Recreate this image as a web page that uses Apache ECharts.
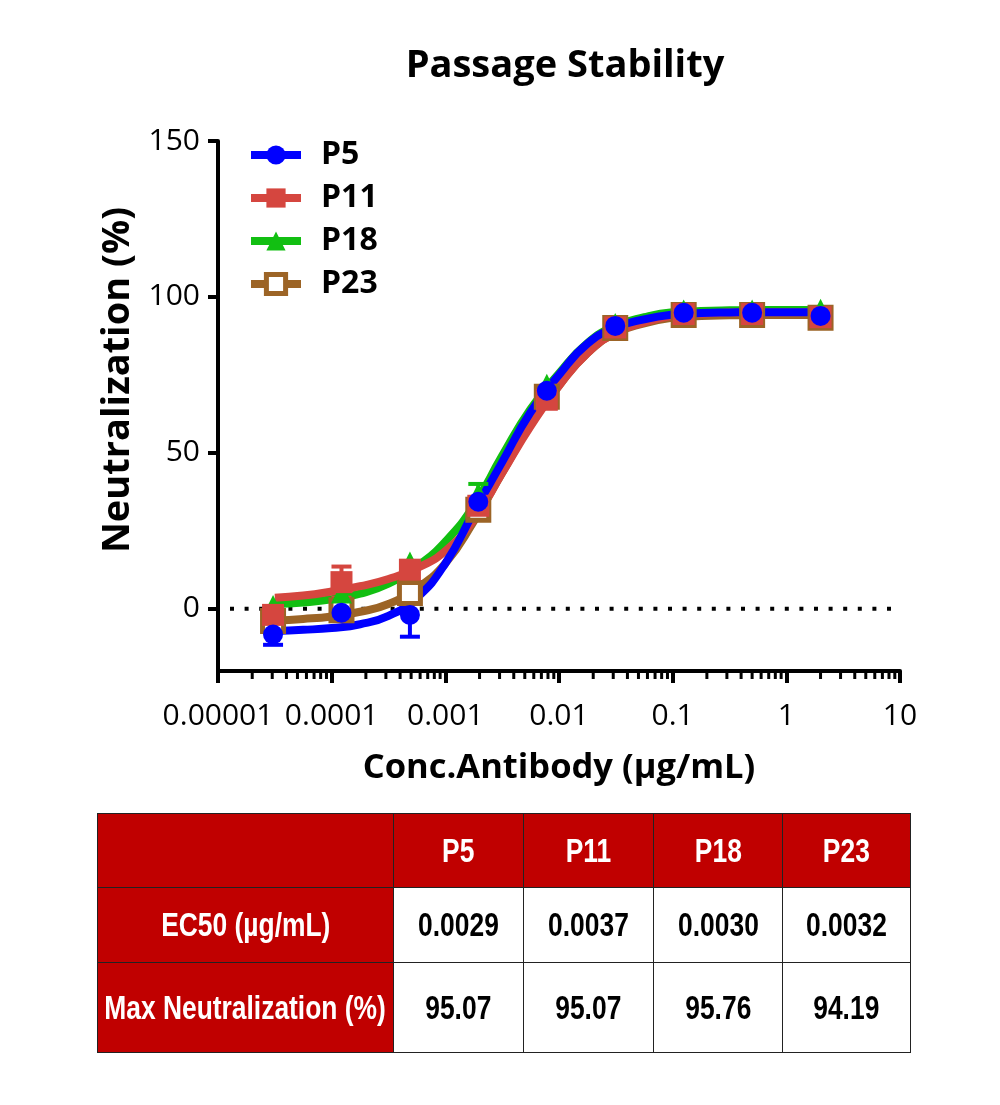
<!DOCTYPE html>
<html><head><meta charset="utf-8">
<script src="https://cdn.jsdelivr.net/npm/echarts@6/dist/echarts.min.js"></script>
<style>
html,body{margin:0;padding:0;background:#fff;}
#chart{width:1000px;height:1105px;position:absolute;left:0;top:0;}
#tbl{position:absolute;left:97px;top:813px;border-collapse:collapse;table-layout:fixed;width:813px;
  font-family:"Liberation Sans",Arial,sans-serif;font-weight:bold;font-size:33px;}
#tbl td{border:1.5px solid #222;text-align:center;vertical-align:middle;padding:0;color:#000;background:#fff;white-space:nowrap;overflow:hidden;}
#tbl td.red{background:#C00000;color:#fff;}
#tbl td span{display:inline-block;transform:scaleX(0.8);transform-origin:center;margin:0 -120px;}
</style></head><body>
<div id="chart"></div>
<table id="tbl"></table>
<script>
// ---- data ----
const seriesNames = ['P5', 'P11', 'P18', 'P23'];
const seriesColors = ['#0000FF', '#D5463F', '#12BF12', '#9C6426'];
const concentrations = [0.0000305, 0.000122, 0.000488, 0.00195, 0.0078125, 0.03125, 0.125, 0.5, 2];
const p5Values  = [-8.3, -1.3, -2.0, 34.3, 69.9, 90.7, 94.9, 94.9, 93.9];
const p11Values = [-2.0, 8.5, 12.5, 33.0, 67.0, 90.2, 94.5, 94.5, 93.5];
const p18Values = [1.0, 5.0, 15.0, 37.0, 72.0, 91.5, 95.8, 95.8, 96.0];
const p23Values = [-4.0, -0.5, 5.0, 31.7, 68.0, 90.0, 94.2, 94.2, 93.3];
const p5Err  = [3.3, 0, 7.0, 0, 0, 0, 0, 0, 0];
const p11Err = [0, 5.0, 0, 0, 0, 0, 0, 0, 0];
const p18Err = [0, 0, 0, 3.0, 0, 0, 0, 0, 0];
const p23Err = [0, 0, 0, 0, 0, 0, 0, 0, 0];
// fitted curves (quarter-decade steps)
const curveConc = [3.16e-5, 5.62e-5, 1e-4, 1.78e-4, 3.16e-4, 5.62e-4, 1e-3, 1.78e-3, 3.16e-3, 5.62e-3,
                   0.01, 0.0178, 0.0316, 0.0562, 0.1, 0.178, 0.316, 0.562, 1, 2];
const p5Curve  = [-7.2, -6.8, -6.2, -5.0, -2.3, 3.5, 14.5, 31.0, 47.0, 63.0, 75.0, 85.0, 90.2, 92.8, 94.3, 94.8, 95.0, 95.1, 95.1, 95.1];
const p11Curve = [3.5, 4.2, 5.5, 7.2, 9.5, 13.0, 18.5, 28.5, 43.5, 58.5, 71.5, 82.0, 88.5, 91.8, 93.9, 94.6, 95.0, 95.1, 95.1, 95.1];
const p18Curve = [1.5, 2.0, 3.0, 4.8, 8.0, 13.5, 21.5, 33.0, 49.0, 64.0, 75.5, 85.2, 90.7, 93.5, 95.1, 95.5, 95.7, 95.8, 95.8, 95.8];
const p23Curve = [-3.8, -3.3, -2.5, -1.0, 1.5, 6.5, 14.5, 28.0, 43.5, 59.0, 71.5, 82.0, 88.4, 91.5, 93.3, 93.9, 94.1, 94.2, 94.2, 94.2];
const yTicks = [0, 50, 100, 150];
const xTickLabels = ['0.00001', '0.0001', '0.001', '0.01', '0.1', '1', '10'];
const tableHeader = ['', 'P5', 'P11', 'P18', 'P23'];
const ec50Row = ['EC50 (µg/mL)', '0.0029', '0.0037', '0.0030', '0.0032'];
const maxRow = ['Max Neutralization (%)', '95.07', '95.07', '95.76', '94.19'];

// ---- build ----
const values = [p5Values, p11Values, p18Values, p23Values];
const errs = [p5Err, p11Err, p18Err, p23Err];
const curves = [p5Curve, p11Curve, p18Curve, p23Curve];
const symbols = ['circle', 'rect', 'triangle', 'rect'];
const symSizes = [20, 22, 21, 21];
const Y_MIN = -20, Y_MAX = 150;

const minorTicks = [];
for (let e = -5; e < 1; e++) for (let m = 2; m <= 9; m++) minorTicks.push(m * Math.pow(10, e));

const chart = echarts.init(document.getElementById('chart'), null, {renderer: 'canvas'});
const series = [];
// zero dotted line
series.push({type: 'line', data: [[1e-5, 0], [10, 0]], symbol: 'none', silent: true, z: 1,
  lineStyle: {color: '#000', width: 4, type: [4, 10.6], dashOffset: -12}});
// minor x ticks
series.push({type: 'custom', data: minorTicks.map(v => [v, Y_MIN]), silent: true, z: 5, clip: false,
  renderItem: function (params, api) {
    const p = api.coord([api.value(0), api.value(1)]);
    return {type: 'line', shape: {x1: p[0], y1: p[1], x2: p[0], y2: p[1] + 8}, style: {stroke: '#000', lineWidth: 3}};
  }});
// curves (drawn bottom-up: P23, P18, P11, P5)
for (let i = 3; i >= 0; i--) {
  const isHollow = i === 3;
  series.push({
    type: 'line', name: seriesNames[i], smooth: 0.5, showSymbol: false,
    symbol: symbols[i], symbolSize: symSizes[i],
    data: curveConc.map((c, k) => [c, curves[i][k]]),
    lineStyle: {color: seriesColors[i], width: 8},
    itemStyle: isHollow ? {color: '#fff', borderColor: seriesColors[i], borderWidth: 5} : {color: seriesColors[i], opacity: 1},
    z: 2 + (3 - i) * 0.1
  });
}
// error bars
for (let i = 3; i >= 0; i--) {
  const d = [];
  concentrations.forEach((c, k) => { if (errs[i][k] > 0) d.push([c, values[i][k] - errs[i][k], values[i][k] + errs[i][k]]); });
  series.push({
    type: 'custom', name: seriesNames[i] + ' err', data: d, z: 3 + (3 - i) * 0.1, silent: true,
    renderItem: function (params, api) {
      const x = api.value(0);
      const lo = api.coord([x, api.value(1)]);
      const hi = api.coord([x, api.value(2)]);
      const w = 10;
      const st = {stroke: seriesColors[i], lineWidth: 4};
      return {type: 'group', children: [
        {type: 'line', shape: {x1: lo[0], y1: lo[1], x2: hi[0], y2: hi[1]}, style: st},
        {type: 'line', shape: {x1: lo[0] - w, y1: lo[1], x2: lo[0] + w, y2: lo[1]}, style: st},
        {type: 'line', shape: {x1: hi[0] - w, y1: hi[1], x2: hi[0] + w, y2: hi[1]}, style: st}
      ]};
    }
  });
}
// points
for (let i = 3; i >= 0; i--) {
  const isHollow = i === 3;
  series.push({
    type: 'scatter', name: seriesNames[i] + ' pts', symbol: symbols[i], symbolSize: symSizes[i],
    data: concentrations.map((c, k) => [c, values[i][k]]),
    itemStyle: isHollow ? {color: '#fff', borderColor: seriesColors[i], borderWidth: 5, opacity: 1} : {color: seriesColors[i], opacity: 1},
    z: 4 + (3 - i) * 0.1
  });
}

const axisBlack = {color: '#000', width: 4};
chart.setOption({
  animation: false,
  title: {text: 'Passage Stability', left: 560, top: 42, textAlign: 'center',
    textStyle: {fontFamily: 'Open Sans', fontWeight: 'bold', fontSize: 38, color: '#000'}},
  legend: {
    data: seriesNames.map((n, i) => i === 3 ? {name: n, itemStyle: {color: '#fff', borderColor: seriesColors[3], borderWidth: 5}} : {name: n}),
    orient: 'vertical', left: 242, top: 133, itemWidth: 50, itemHeight: 24, itemGap: 9,
    lineStyle: {width: 8},
    textStyle: {fontFamily: 'Open Sans', fontWeight: 'bold', fontSize: 32, color: '#000', padding: [0, 0, 0, 15], lineHeight: 34}},
  grid: {left: 218, right: 100, top: 141, bottom: 434, containLabel: false},
  xAxis: {
    type: 'log', logBase: 10, min: 1e-5, max: 10,
    name: 'Conc.Antibody (µg/mL)', nameLocation: 'middle', nameGap: 80,
    nameTextStyle: {fontFamily: 'Open Sans', fontWeight: 'bold', fontSize: 34.5, color: '#000'},
    axisLine: {show: true, onZero: false, lineStyle: axisBlack},
    axisTick: {show: true, length: 12, lineStyle: axisBlack},
    axisLabel: {fontFamily: 'Open Sans', fontSize: 30, color: '#000', margin: 30,
      formatter: v => xTickLabels[Math.round(Math.log10(v)) + 5]},
    splitLine: {show: false}, minorTick: {show: false}
  },
  yAxis: {
    type: 'value', min: Y_MIN, max: Y_MAX,
    name: 'Neutralization (%)', nameLocation: 'middle', nameGap: 80,
    nameTextStyle: {fontFamily: 'Open Sans', fontWeight: 'bold', fontSize: 38, color: '#000', padding: [0, 0, 0, 52]},
    axisLine: {show: true, lineStyle: axisBlack},
    axisTick: {show: true, length: 10, customValues: yTicks, lineStyle: axisBlack},
    axisLabel: {customValues: yTicks, fontFamily: 'Open Sans', fontSize: 30, color: '#000', margin: 18},
    splitLine: {show: false}
  },
  series: series
});

// table
const tbl = document.getElementById('tbl');
const colW = [295, 129, 129, 128, 127];
const rowH = [74, 75, 90];
[tableHeader, ec50Row, maxRow].forEach((row, r) => {
  const tr = document.createElement('tr');
  tr.style.height = rowH[r] + 'px';
  row.forEach((txt, c) => {
    const td = document.createElement('td');
    const sp = document.createElement('span');
    sp.textContent = txt;
    td.appendChild(sp);
    td.style.width = colW[c] + 'px';
    if (r === 0 || c === 0) td.className = 'red';
    tr.appendChild(td);
  });
  tbl.appendChild(tr);
});
</script>
</body></html>
